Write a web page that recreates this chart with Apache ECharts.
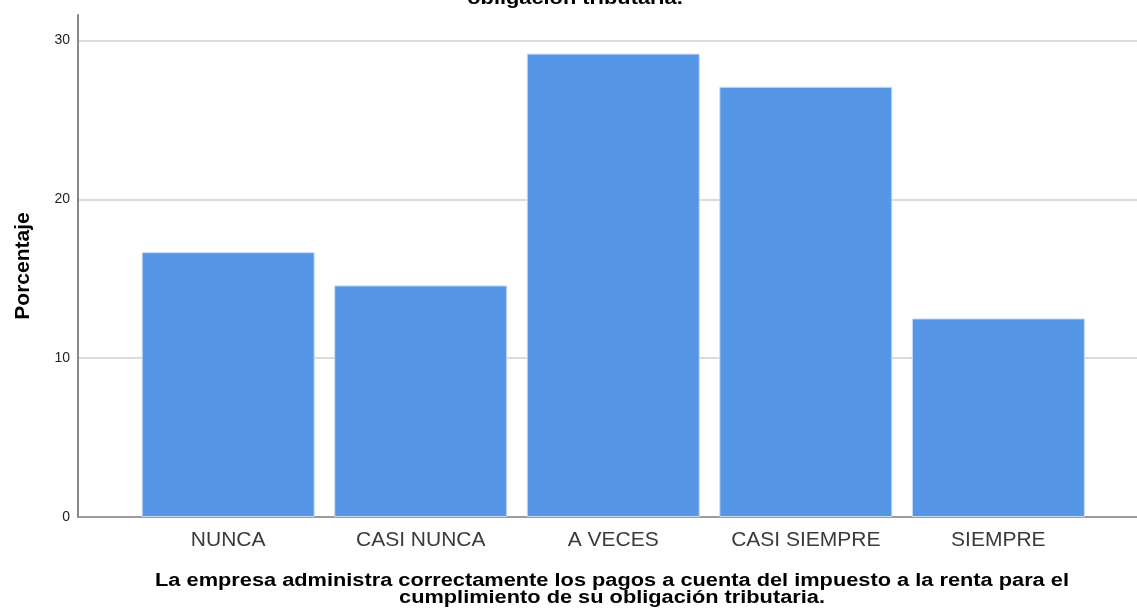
<!DOCTYPE html>
<html>
<head>
<meta charset="utf-8">
<script src="https://cdn.jsdelivr.net/npm/echarts@6/dist/echarts.min.js"></script>
<style>
  html, body { margin: 0; padding: 0; background: #fff; }
  #chart { width: 1137px; height: 614px; }
</style>
</head>
<body>
<div id="chart"></div>
<script>
// Response categories and percentage of respondents
const categories = ['NUNCA', 'CASI NUNCA', 'A VECES', 'CASI SIEMPRE', 'SIEMPRE'];
const percentages = [16.67, 14.58, 29.17, 27.08, 12.5];
const yTicks = [0, 10, 20, 30];

const chart = echarts.init(document.getElementById('chart'));
const font = '"Liberation Sans", Arial, sans-serif';
const catPositions = categories.map((_, i) => i);

chart.setOption({
  animation: false,
  backgroundColor: '#ffffff',
  grid: { left: 78, right: 0, top: 15, bottom: 97, containLabel: false },
  xAxis: {
    type: 'value',
    min: -0.78,
    max: 4.72,
    splitLine: { show: false },
    axisTick: { show: false, customValues: catPositions },
    axisLine: { show: true, onZero: false, lineStyle: { color: '#888888', width: 1.5 } },
    axisLabel: {
      show: true,
      margin: 13,
      fontFamily: font,
      fontSize: 21,
      color: '#3a3a3a',
      customValues: catPositions,
      formatter: v => categories[Math.round(v)] ?? ''
    }
  },
  yAxis: {
    type: 'value',
    min: 0,
    max: 31.6,
    name: 'Porcentaje',
    nameLocation: 'middle',
    nameGap: 44,
    nameTextStyle: { fontFamily: font, fontSize: 21, fontWeight: 'bold', color: '#000' },
    axisLine: { show: true, onZero: false, lineStyle: { color: '#888888', width: 2 } },
    axisTick: { show: false, customValues: yTicks },
    axisLabel: {
      fontFamily: font, fontSize: 14, color: '#222222', margin: 8,
      customValues: yTicks
    },
    splitLine: { show: true, lineStyle: { color: '#cfcfcf', width: 1.5 } }
  },
  series: [{
    type: 'bar',
    data: percentages.map((v, i) => [i, v]),
    barWidth: 173,
    itemStyle: { color: '#5596e6', borderColor: '#c9dcf5', borderWidth: 1 }
  }],
  graphic: [
    {
      // second line of the chart title (first line lies above the canvas)
      type: 'text', x: 575, y: 8, scaleX: 1.21,
      style: {
        text: 'obligación tributaria.', font: 'bold 18px ' + font, fill: '#000',
        align: 'center', verticalAlign: 'bottom'
      }
    },
    {
      // x-axis title, wide bold face
      type: 'text', x: 612, y: 573, scaleX: 1.21,
      style: {
        text: 'La empresa administra correctamente los pagos a cuenta del impuesto a la renta para el\ncumplimiento de su obligación tributaria.',
        font: 'bold 18px ' + font, fill: '#000', align: 'center', verticalAlign: 'top', lineHeight: 17
      }
    }
  ]
});
</script>
</body>
</html>
